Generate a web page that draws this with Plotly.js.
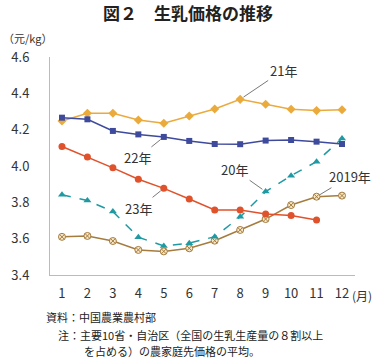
<!DOCTYPE html>
<html><head><meta charset="utf-8">
<script src="https://cdn.plot.ly/plotly-3.0.1.min.js"></script>
<style>body{margin:0;background:#fff}#c{width:380px;height:362px}</style>
</head><body><div id="c"></div>
<script>
const months = [1,2,3,4,5,6,7,8,9,10,11,12];
const y2019 = [3.61,3.615,3.587,3.538,3.53,3.547,3.589,3.648,3.708,3.785,3.831,3.837];
const y2020 = [3.842,3.81,3.749,3.608,3.56,3.575,3.611,3.72,3.859,3.947,4.024,4.152];
const y2021 = [4.248,4.29,4.29,4.253,4.235,4.275,4.314,4.367,4.34,4.312,4.305,4.31];
const y2022 = [4.266,4.257,4.193,4.174,4.16,4.138,4.121,4.12,4.14,4.143,4.134,4.121];
const y2023 = [4.107,4.05,3.99,3.927,3.877,3.818,3.758,3.758,3.736,3.727,3.703];
const yTicks = [3.4,3.6,3.8,4.0,4.2,4.4,4.6];
const yTickText = ['3.4','3.6','3.8','4.0','4.2','4.4','4.6'];
const F = '"Noto Sans CJK JP", "Liberation Sans", sans-serif';

const traces = [
  {x: months, y: y2019, mode:'lines+markers', line:{color:'#A57C3E', width:1.5},
   marker:{symbol:'circle-x', size:7, color:'#F6E7C9', line:{color:'#A57C3E', width:1}}},
  {x: months, y: y2020, mode:'lines+markers', line:{color:'#1F9AA3', width:1.5, dash:'dash'},
   marker:{symbol:'triangle-up', size:7, color:'#1F9AA3'}},
  {x: months, y: y2021, mode:'lines+markers', line:{color:'#EBAA3C', width:1.5},
   marker:{symbol:'diamond', size:7, color:'#EBAA3C'}},
  {x: months, y: y2022, mode:'lines+markers', line:{color:'#3E4A9C', width:1.5},
   marker:{symbol:'square', size:6, color:'#3E4A9C'}},
  {x: months.slice(0, y2023.length), y: y2023, mode:'lines+markers', line:{color:'#E0522B', width:1.5},
   marker:{symbol:'circle', size:7, color:'#E0522B'}}
];

const ann = (x, y, text, ax, ay) => ({x, y, xref:'x', yref:'y', text, showarrow:true,
  arrowhead:0, arrowwidth:0.8, arrowcolor:'#555', ax, ay, standoff:4,
  font:{family:F, size:13, color:'#333'}});

const layout = {
  width:380, height:362,
  margin:{l:50, r:25, t:57, b:87},
  paper_bgcolor:'#fff', plot_bgcolor:'#fff',
  showlegend:false,
  title:{text:'<b>図２　生乳価格の推移</b>', x:0.495, xanchor:'center', y:0.96, yanchor:'middle',
    font:{family:F, size:17, color:'#222'}},
  xaxis:{range:[0.53,12.51], tickvals:months, ticktext:months.map(String), showgrid:false,
    zeroline:false, showline:true, linecolor:'#bbb', linewidth:1, ticks:'',
    tickfont:{family:F, size:13, color:'#333'}, ticklabelstandoff:6, fixedrange:true},
  yaxis:{range:[3.4,4.6], tickvals:yTicks, ticktext:yTickText, showgrid:false,
    zeroline:false, showline:true, linecolor:'#bbb', linewidth:1, ticks:'',
    tickfont:{family:F, size:13, color:'#333'}, ticklabelstandoff:17, fixedrange:true},
  annotations:[
    ann(8, y2021[7], '21年', 43, -29),
    ann(5, y2022[4], '22年', -26, 21),
    ann(5, y2023[4], '23年', -25, 20),
    ann(9, y2020[8], '20年', -31, -22),
    ann(11, y2019[10], '2019年', 33, -20),
    {xref:'paper', yref:'paper', x:-0.16, y:1.04, xanchor:'left', yanchor:'bottom', showarrow:false,
      text:'（元/kg）', font:{family:F, size:11, color:'#333'}},
    {xref:'paper', yref:'paper', x:0.985, y:-0.045, xanchor:'left', yanchor:'top', showarrow:false,
      text:'(月)', font:{family:F, size:12, color:'#333'}},
    {xref:'paper', yref:'paper', x:-0.02, y:-0.145, xanchor:'left', yanchor:'top', showarrow:false, align:'left',
      text:'資料：中国農業農村部', font:{family:F, size:11, color:'#222'}},
    {xref:'paper', yref:'paper', x:0.02, y:-0.228, xanchor:'left', yanchor:'top', showarrow:false, align:'left',
      text:'注：主要10省・自治区（全国の生乳生産量の８割以上', font:{family:F, size:11, color:'#222'}},
    {xref:'paper', yref:'paper', x:0.105, y:-0.305, xanchor:'left', yanchor:'top', showarrow:false, align:'left',
      text:'を占める）の農家庭先価格の平均。', font:{family:F, size:11, color:'#222'}}
  ]
};
Plotly.newPlot('c', traces, layout, {displayModeBar:false, staticPlot:true});
</script></body></html>
